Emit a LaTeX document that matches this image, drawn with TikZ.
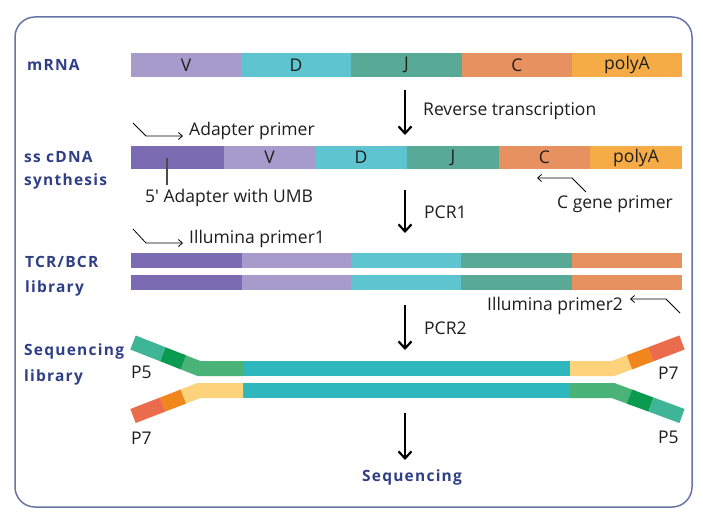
\documentclass[tikz,border=0pt]{standalone}
\usepackage{fontspec}
\setmainfont{Open Sans}
\newfontfamily\lblfamily[LetterSpace=8]{Open Sans}
\usetikzlibrary{arrows.meta,calc}
\definecolor{cV}{HTML}{A69CCB}
\definecolor{cD}{HTML}{5EC4D0}
\definecolor{cJ}{HTML}{58A996}
\definecolor{cC}{HTML}{E89160}
\definecolor{cPoly}{HTML}{F5AC47}
\definecolor{cAd}{HTML}{7A6BB2}
\definecolor{cTeal}{HTML}{2EB8BE}
\definecolor{cGreen}{HTML}{4AB377}
\definecolor{cDkGreen}{HTML}{0B9B50}
\definecolor{cTailTeal}{HTML}{3DB596}
\definecolor{cYellow}{HTML}{FCD27B}
\definecolor{cOrange}{HTML}{F0861C}
\definecolor{cRed}{HTML}{EB6B4D}
\definecolor{cBorder}{HTML}{6775A6}
\definecolor{cLabel}{HTML}{2F3F86}
\definecolor{cText}{HTML}{1E1E1E}
\tikzset{
  seg/.style={inner sep=0pt, outer sep=0pt, anchor=west, text=cText,
    font=\fontsize{17.5}{20}\selectfont},
  lbl/.style={inner sep=0pt, anchor=base west, text=cLabel,
    font=\lblfamily\bfseries\fontsize{15.5}{18}\selectfont},
  txt/.style={inner sep=0pt, anchor=base west, text=cText,
    font=\fontsize{17.5}{21}\selectfont},
  bigarrow/.style={-{Straight Barb[length=7pt,width=13pt]}, line width=2.2pt, black},
  primer/.style={-{Straight Barb[length=4pt,width=7pt]}, line width=0.8pt, black},
  strand/.style={line width=15pt, line cap=butt, line join=miter},
}
\begin{document}
\begin{tikzpicture}[x=1pt,y=-1pt]
\useasboundingbox (0,0) rectangle (703,526);
\fill[white] (0,0) rectangle (703,526);
\draw[cBorder, line width=1.5pt, rounded corners=20pt] (15,17) rectangle (692,507);

% ---- mRNA row
\node[lbl] (lmrna) at (27,71) {mRNA};
\node[seg, fill=cV, minimum width=110pt, minimum height=24pt] (mV) at (131,65) {V};
\node[seg, fill=cD, minimum width=110pt, minimum height=24pt] (mD) at (241,65) {D};
\node[seg, fill=cJ, minimum width=111pt, minimum height=24pt] (mJ) at (351,65) {J};
\node[seg, fill=cC, minimum width=110pt, minimum height=24pt] (mC) at (462,65) {C};
\node[seg, fill=cPoly, minimum width=110pt, minimum height=24pt] (mP) at (572,65) {polyA};

% ---- arrow 1
\coordinate (a1s) at (405,90);
\coordinate (a1e) at (405,135);
\draw[bigarrow] (a1s) -- (a1e);
\node[txt] (trRT) at (423,116) {Reverse transcription};

% ---- ss cDNA row
\node[lbl] (lss1) at (24,163) {ss cDNA};
\node[lbl] (lss2) at (24,186) {synthesis};
\coordinate (ap0) at (133,123);
\coordinate (ap1) at (146,136);
\coordinate (ap2) at (183,136);
\draw[primer] (ap0) -- (ap1) -- (ap2);
\node[txt] (tAP) at (189,136) {Adapter primer};
\node[seg, fill=cAd, minimum width=93pt, minimum height=23pt] (sA) at (131,157.5) {};
\node[seg, fill=cV, minimum width=91pt, minimum height=23pt] (sV) at (224,157.5) {V};
\node[seg, fill=cD, minimum width=92pt, minimum height=23pt] (sD) at (315,157.5) {D};
\node[seg, fill=cJ, minimum width=92pt, minimum height=23pt] (sJ) at (407,157.5) {J};
\node[seg, fill=cC, minimum width=91pt, minimum height=23pt] (sC) at (499,157.5) {C};
\node[seg, fill=cPoly, minimum width=92pt, minimum height=23pt] (sP) at (590,157.5) {polyA};
\coordinate (umb0) at (167,158);
\coordinate (umb1) at (167,185);
\draw[line width=1.2pt, black!70] (umb0) -- (umb1);
\node[txt] (tUMB) at (145,203) {5\textquotesingle{} Adapter with UMB};
\coordinate (cg0) at (586,192);
\coordinate (cg1) at (572,178);
\coordinate (cg2) at (537,178);
\draw[primer] (cg0) -- (cg1) -- (cg2);
\node[txt] (tCG) at (557,209) {C gene primer};

% ---- arrow 2
\coordinate (a2s) at (405,190);
\coordinate (a2e) at (405,233);
\draw[bigarrow] (a2s) -- (a2e);
\node[txt] (tPCR1) at (424,219) {PCR1};

% ---- TCR/BCR library
\coordinate (ip0) at (133,229);
\coordinate (ip1) at (146,243);
\coordinate (ip2) at (183,243);
\draw[primer] (ip0) -- (ip1) -- (ip2);
\node[txt] (tIP1) at (189,244) {Illumina primer1};
\node[lbl] (ltcr1) at (25,268) {TCR/BCR};
\node[lbl] (ltcr2) at (25,292) {library};
\foreach \yy/\nm in {260.5/a,282.5/b}{
  \node[seg, fill=cAd, minimum width=111pt, minimum height=15pt] (t\nm1) at (131,\yy) {};
  \node[seg, fill=cV, minimum width=109pt, minimum height=15pt] (t\nm2) at (242,\yy) {};
  \node[seg, fill=cD, minimum width=110pt, minimum height=15pt] (t\nm3) at (351,\yy) {};
  \node[seg, fill=cJ, minimum width=111pt, minimum height=15pt] (t\nm4) at (461,\yy) {};
  \node[seg, fill=cC, minimum width=110pt, minimum height=15pt] (t\nm5) at (572,\yy) {};
}
\node[txt] (tIP2) at (487,310) {Illumina primer2};
\coordinate (iq0) at (680,313);
\coordinate (iq1) at (666,299);
\coordinate (iq2) at (630,299);
\draw[primer] (iq0) -- (iq1) -- (iq2);

% ---- arrow 3
\coordinate (a3s) at (405,305);
\coordinate (a3e) at (405,350);
\draw[bigarrow] (a3s) -- (a3e);
\node[txt] (tPCR2) at (424,334) {PCR2};

% ---- Sequencing library
\node[lbl] (lsq1) at (24,355) {Sequencing};
\node[lbl] (lsq2) at (24,381) {library};

% top strand
\coordinate (TLE) at (133,342.5);
\coordinate (TLJ) at (199,368.5);
\coordinate (TLH) at (243,368.5);
\coordinate (TRH) at (570,368.5);
\coordinate (TRJ) at (613,368.5);
\coordinate (TRE) at (682,342.5);
\draw[strand, cTeal] (TLH) -- (TRH);
\draw[strand, cGreen] ($(TLE)!0.7!(TLJ)$) -- (TLJ) -- (TLH);
\draw[strand, cDkGreen] ($(TLE)!0.45!(TLJ)$) -- ($(TLE)!0.76!(TLJ)$);
\draw[strand, cTailTeal] (TLE) -- ($(TLE)!0.45!(TLJ)$);
\draw[strand, cYellow] (TRH) -- (TRJ) -- ($(TRE)!0.7!(TRJ)$);
\draw[strand, cOrange] ($(TRE)!0.45!(TRJ)$) -- ($(TRE)!0.76!(TRJ)$);
\draw[strand, cRed] (TRE) -- ($(TRE)!0.45!(TRJ)$);

% bottom strand
\coordinate (BLE) at (133,416);
\coordinate (BLJ) at (199,390.5);
\coordinate (BLH) at (243,390.5);
\coordinate (BRH) at (570,390.5);
\coordinate (BRJ) at (613,390.5);
\coordinate (BRE) at (682,416);
\draw[strand, cTeal] (BLH) -- (BRH);
\draw[strand, cYellow] ($(BLE)!0.7!(BLJ)$) -- (BLJ) -- (BLH);
\draw[strand, cOrange] ($(BLE)!0.45!(BLJ)$) -- ($(BLE)!0.76!(BLJ)$);
\draw[strand, cRed] (BLE) -- ($(BLE)!0.45!(BLJ)$);
\draw[strand, cGreen] (BRH) -- (BRJ) -- ($(BRE)!0.7!(BRJ)$);
\draw[strand, cDkGreen] ($(BRE)!0.45!(BRJ)$) -- ($(BRE)!0.76!(BRJ)$);
\draw[strand, cTailTeal] (BRE) -- ($(BRE)!0.45!(BRJ)$);

\node[txt] (p5l) at (131,378) {P5};
\node[txt] (p7l) at (131,444) {P7};
\node[txt] (p7r) at (658,379) {P7};
\node[txt] (p5r) at (658,443) {P5};

% ---- arrow 4
\coordinate (a4s) at (405,413);
\coordinate (a4e) at (405,460);
\draw[bigarrow] (a4s) -- (a4e);
\node[lbl, anchor=center] (lseq) at (412,477) {Sequencing};
\end{tikzpicture}
\end{document}
